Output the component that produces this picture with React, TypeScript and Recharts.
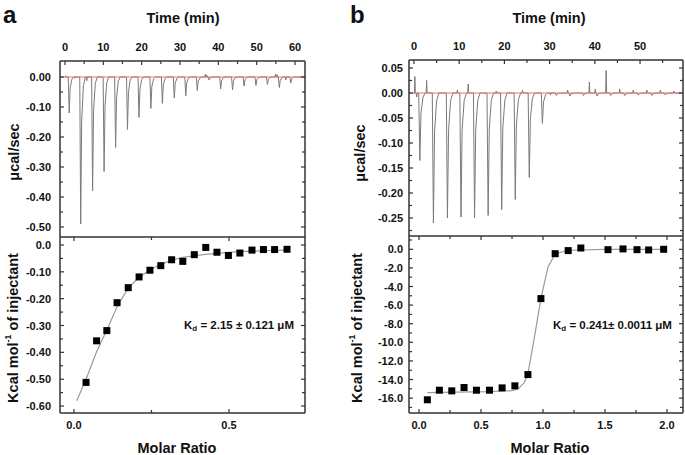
import { ComposedChart, Line, Scatter, XAxis, YAxis, ReferenceLine } from 'recharts';

const FONT = '"Liberation Sans", Arial, Helvetica, sans-serif';
const FRAME = '#333';

// ---- panel a: raw heat trace ----
const injTimeA = [0.9, 3.9, 7.0, 10.0, 13.0, 16.1, 19.1, 22.2, 25.2, 28.3, 31.3, 34.3, 37.4, 40.4, 43.5, 46.5, 49.6, 52.6, 55.7, 58.7];
const peakA = [-0.12, -0.49, -0.38, -0.315, -0.235, -0.175, -0.135, -0.105, -0.088, -0.07, -0.063, -0.045, -0.01, -0.04, -0.043, -0.03, -0.028, -0.025, -0.035, -0.02];
const bumpsA = [[0.2, 0.004], [2.6, -0.004], [5.7, -0.012], [8.8, 0.003], [36.6, 0.01], [37.0, 0.006], [54.9, 0.01], [55.3, 0.008], [57.6, -0.01]];
const traceEndA = [0, 62.5];

// ---- panel a: integrated heats ----
const ratioA = [0.039, 0.073, 0.106, 0.139, 0.175, 0.21, 0.245, 0.28, 0.315, 0.351, 0.388, 0.425, 0.461, 0.498, 0.535, 0.574, 0.611, 0.647, 0.687];
const heatA = [-0.512, -0.357, -0.319, -0.215, -0.159, -0.119, -0.094, -0.077, -0.055, -0.061, -0.036, -0.009, -0.027, -0.039, -0.03, -0.019, -0.017, -0.017, -0.016];
const fitRatioA = [0.009, 0.039, 0.073, 0.106, 0.139, 0.175, 0.21, 0.245, 0.28, 0.315, 0.351, 0.388, 0.425, 0.461, 0.535, 0.611, 0.687];
const fitHeatA = [-0.58, -0.5, -0.398, -0.317, -0.23, -0.161, -0.12, -0.093, -0.072, -0.056, -0.046, -0.04, -0.035, -0.031, -0.025, -0.021, -0.019];

// ---- panel b: raw heat trace ----
const injTimeB = [1.1, 4.1, 7.2, 10.2, 13.2, 16.2, 19.2, 22.2, 25.3, 28.2, 31.3, 34.3, 37.3, 40.3, 43.3, 46.4, 49.4, 52.4, 55.4];
const peakB = [-0.135, -0.26, -0.25, -0.248, -0.25, -0.245, -0.233, -0.213, -0.169, -0.061, -0.005, -0.006, -0.005, -0.006, -0.005, -0.005, -0.004, -0.005, -0.004];
const bumpsB = [[0.2, 0.033], [0.6, -0.008], [2.8, 0.025], [9.6, 0.006], [12.0, 0.018], [18.2, 0.004], [24.0, 0.006], [30.2, -0.004], [34.0, 0.006], [38.8, 0.022], [40.1, 0.008], [42.5, 0.045], [45.5, 0.008], [48.5, 0.006], [51.5, 0.006], [54.5, 0.006], [57.5, 0.004]];
const traceEndB = [0, 59.3];

// ---- panel b: integrated heats ----
const ratioB = [0.067, 0.164, 0.264, 0.363, 0.463, 0.568, 0.67, 0.773, 0.878, 0.983, 1.098, 1.203, 1.305, 1.524, 1.645, 1.758, 1.852, 1.973];
const heatB = [-16.18, -15.15, -15.22, -14.86, -15.15, -15.15, -14.9, -14.68, -13.47, -5.3, -0.47, -0.14, 0.14, -0.04, 0.04, -0.04, -0.07, 0];
const fitRatioB = [0.067, 0.3, 0.55, 0.75, 0.8, 0.85, 0.878, 0.93, 0.983, 1.04, 1.098, 1.2, 1.5, 1.973];
const fitHeatB = [-15.4, -15.35, -15.3, -15.2, -15.0, -14.3, -13.4, -9.5, -5.3, -1.9, -0.5, -0.1, 0, 0];

// ---- ticks ----
const timeMajorA = [0, 10, 20, 30, 40, 50, 60];
const timeMinorA = [5, 15, 25, 35, 45, 55];
const powMajorA = [0, -0.1, -0.2, -0.3, -0.4, -0.5];
const powLabelA = ['0.00', '-0.10', '-0.20', '-0.30', '-0.40', '-0.50'];
const powMinorA = [-0.05, -0.15, -0.25, -0.35, -0.45];
const ratioMajorA = [0, 0.5];
const ratioLabelA = ['0.0', '0.5'];
const ratioMinorA = [0.25];
const kcalMajorA = [0, -0.1, -0.2, -0.3, -0.4, -0.5, -0.6];
const kcalLabelA = ['0.0', '-0.10', '-0.20', '-0.30', '-0.40', '-0.50', '-0.60'];
const kcalMinorA = [-0.05, -0.15, -0.25, -0.35, -0.45, -0.55];

const timeMajorB = [0, 10, 20, 30, 40, 50];
const timeMinorB = [5, 15, 25, 35, 45, 55];
const powMajorB = [0.05, 0, -0.05, -0.1, -0.15, -0.2, -0.25];
const powLabelB = ['0.05', '0.00', '-0.05', '-0.10', '-0.15', '-0.20', '-0.25'];
const powMinorB = [0.025, -0.025, -0.075, -0.125, -0.175, -0.225, -0.275];
const ratioMajorB = [0, 0.5, 1, 1.5, 2];
const ratioLabelB = ['0.0', '0.5', '1.0', '1.5', '2.0'];
const ratioMinorB = [0.25, 0.75, 1.25, 1.75];
const kcalMajorB = [0, -2, -4, -6, -8, -10, -12, -14, -16];
const kcalLabelB = ['0.0', '-2.0', '-4.0', '-6.0', '-8.0', '-10.0', '-12.0', '-14.0', '-16.0'];
const kcalMinorB = [1, -1, -3, -5, -7, -9, -11, -13, -15, -17];

function buildTrace(times: number[], peaks: number[], bumps: number[][], ends: number[]) {
  const pts: { t: number; p: number }[] = [{ t: ends[0], p: 0 }, { t: ends[1], p: 0 }];
  times.forEach((t, i) => {
    const d = peaks[i];
    pts.push({ t: t - 0.05, p: 0 }, { t: t + 0.2, p: d }, { t: t + 0.45, p: d * 0.3 }, { t: t + 0.9, p: d * 0.06 }, { t: t + 1.4, p: 0 });
  });
  bumps.forEach(([t, v]) => pts.push({ t: t - 0.1, p: 0 }, { t, p: v }, { t: t + 0.1, p: 0 }));
  return pts.sort((a, b) => a.t - b.t);
}

const pairs = (xs: number[], ys: number[]) => xs.map((r, i) => ({ r, k: ys[i] }));
const merge = (a: number[], b: number[]) => [...a, ...b].sort((x, y) => x - y);

type Side = 'left' | 'right' | 'top' | 'bottom';

function axisTick(side: Side, majors: number[], labels: string[] | null, gap = 8) {
  return (props: any) => {
    const { x, y, payload } = props;
    const v = Number(payload.value);
    const i = majors.findIndex((m) => Math.abs(m - v) < 1e-6);
    const len = i >= 0 ? 4 : 3;
    let x2 = x;
    let y2 = y;
    if (side === 'left') x2 = x + len;
    if (side === 'right') x2 = x - len;
    if (side === 'top') y2 = y + len;
    if (side === 'bottom') y2 = y - len;
    const label = labels && i >= 0 ? labels[i] : null;
    let tx = x;
    let ty = y;
    let anchor: 'end' | 'middle' = 'middle';
    if (side === 'left') { tx = x - gap; anchor = 'end'; }
    if (side === 'top') ty = y - 14;
    if (side === 'bottom') ty = y + 12;
    return (
      <g>
        <line x1={x} y1={y} x2={x2} y2={y2} stroke={FRAME} strokeWidth={1.2} />
        {label && (
          <text x={tx} y={ty} textAnchor={anchor} dominantBaseline="central" fontFamily={FONT} fontWeight="bold" fontSize={11} fill="#111">
            {label}
          </text>
        )}
      </g>
    );
  };
}

const square = (p: any) => <rect x={p.cx - 3.5} y={p.cy - 3.5} width={7} height={7} fill="#000" />;
const axisLine = { stroke: FRAME, strokeWidth: 1.5 };

interface RawProps {
  width: number;
  margin: { top: number; right: number; left: number; bottom: number };
  yWidth: number;
  rWidth: number;
  xDomain: number[];
  yDomain: number[];
  tMajor: number[];
  tMinor: number[];
  yMajor: number[];
  yLabels: string[];
  yMinor: number[];
  data: { t: number; p: number }[];
  gap: number;
}

function RawChart(p: RawProps) {
  const xt = merge(p.tMajor, p.tMinor);
  const yt = merge(p.yMajor, p.yMinor);
  return (
    <ComposedChart width={p.width} height={240} margin={p.margin}>
      <XAxis xAxisId="t" type="number" dataKey="t" orientation="top" domain={p.xDomain} allowDataOverflow ticks={xt} interval={0} height={26}
        tickSize={0} tickMargin={0} tickLine={false} axisLine={axisLine} tick={axisTick('top', p.tMajor, p.tMajor.map(String))} />
      <YAxis yAxisId="l" type="number" dataKey="p" domain={p.yDomain} allowDataOverflow ticks={yt} interval={0} width={p.yWidth}
        tickSize={0} tickMargin={0} tickLine={false} axisLine={axisLine} tick={axisTick('left', p.yMajor, p.yLabels, p.gap)} />
      <YAxis yAxisId="r" orientation="right" type="number" domain={p.yDomain} allowDataOverflow ticks={yt} interval={0} width={p.rWidth}
        tickSize={0} tickMargin={0} tickLine={false} axisLine={axisLine} tick={axisTick('right', p.yMajor, null)} />
      <Line xAxisId="t" yAxisId="l" data={p.data} dataKey="p" type="linear" dot={false} stroke="#7a7a7a" strokeWidth={1} isAnimationActive={false} />
      <ReferenceLine xAxisId="t" yAxisId="l" y={0} stroke="#f07070" strokeWidth={1} />
    </ComposedChart>
  );
}

interface FitProps {
  width: number;
  height: number;
  margin: { top: number; right: number; left: number; bottom: number };
  yWidth: number;
  rWidth: number;
  xDomain: number[];
  yDomain: number[];
  xMajor: number[];
  xLabels: string[];
  xMinor: number[];
  yMajor: number[];
  yLabels: string[];
  yMinor: number[];
  points: { r: number; k: number }[];
  fit: { r: number; k: number }[];
  gap: number;
}

function FitChart(p: FitProps) {
  const xt = merge(p.xMajor, p.xMinor);
  const yt = merge(p.yMajor, p.yMinor);
  return (
    <ComposedChart width={p.width} height={p.height} margin={p.margin}>
      <XAxis xAxisId="b" type="number" dataKey="r" domain={p.xDomain} allowDataOverflow ticks={xt} interval={0} height={30}
        tickSize={0} tickMargin={0} tickLine={false} axisLine={axisLine} tick={axisTick('bottom', p.xMajor, p.xLabels)} />
      <XAxis xAxisId="t" orientation="top" type="number" dataKey="r" domain={p.xDomain} allowDataOverflow ticks={xt} interval={0} height={1}
        tickSize={0} tickMargin={0} tickLine={false} axisLine={axisLine} tick={axisTick('top', p.xMajor, null)} />
      <YAxis yAxisId="l" type="number" dataKey="k" domain={p.yDomain} allowDataOverflow ticks={yt} interval={0} width={p.yWidth}
        tickSize={0} tickMargin={0} tickLine={false} axisLine={axisLine} tick={axisTick('left', p.yMajor, p.yLabels, p.gap)} />
      <YAxis yAxisId="r" orientation="right" type="number" domain={p.yDomain} allowDataOverflow ticks={yt} interval={0} width={p.rWidth}
        tickSize={0} tickMargin={0} tickLine={false} axisLine={axisLine} tick={axisTick('right', p.yMajor, null)} />
      <Line xAxisId="b" yAxisId="l" data={p.fit} dataKey="k" type="linear" dot={false} stroke="#9a9a9a" strokeWidth={1.2} isAnimationActive={false} />
      <Scatter xAxisId="b" yAxisId="l" data={p.points} dataKey="k" shape={square} isAnimationActive={false} />
    </ComposedChart>
  );
}

const titleStyle = { fontFamily: FONT, fontWeight: 'bold' as const, fill: '#111' };

export default function App() {
  const traceA = buildTrace(injTimeA, peakA, bumpsA, traceEndA);
  const traceB = buildTrace(injTimeB, peakB, bumpsB, traceEndB);
  return (
    <div style={{ position: 'absolute', left: 0, top: 0, width: 685, height: 455, background: '#fff', overflow: 'hidden' }}>
      <div style={{ position: 'absolute', left: 0, top: 0 }}>
        <RawChart width={340} margin={{ top: 35, right: 30, left: 5, bottom: 3 }} yWidth={55} rWidth={5}
          xDomain={[-1.3, 62.6]} yDomain={[-0.5333, 0.0533]} tMajor={timeMajorA} tMinor={timeMinorA}
          yMajor={powMajorA} yLabels={powLabelA} yMinor={powMinorA} data={traceA} gap={9} />
      </div>
      <div style={{ position: 'absolute', left: 0, top: 230 }}>
        <FitChart width={340} height={225} margin={{ top: 6, right: 30, left: 5, bottom: 12 }} yWidth={55} rWidth={5}
          xDomain={[-0.045, 0.745]} yDomain={[-0.626, 0.0298]} xMajor={ratioMajorA} xLabels={ratioLabelA} xMinor={ratioMinorA}
          yMajor={kcalMajorA} yLabels={kcalLabelA} yMinor={kcalMinorA} points={pairs(ratioA, heatA)} fit={pairs(fitRatioA, fitHeatA)} gap={9} />
      </div>
      <div style={{ position: 'absolute', left: 340, top: 0 }}>
        <RawChart width={345} margin={{ top: 34, right: 0, left: 9, bottom: 4 }} yWidth={60} rWidth={2}
          xDomain={[-1.1, 59.5]} yDomain={[-0.286, 0.066]} tMajor={timeMajorB} tMinor={timeMinorB}
          yMajor={powMajorB} yLabels={powLabelB} yMinor={powMinorB} data={traceB} gap={6} />
      </div>
      <div style={{ position: 'absolute', left: 340, top: 229 }}>
        <FitChart width={345} height={226} margin={{ top: 6, right: 0, left: 9, bottom: 12 }} yWidth={60} rWidth={2}
          xDomain={[-0.081, 2.129]} yDomain={[-17.6, 1.43]} xMajor={ratioMajorB} xLabels={ratioLabelB} xMinor={ratioMinorB}
          yMajor={kcalMajorB} yLabels={kcalLabelB} yMinor={kcalMinorB} points={pairs(ratioB, heatB)} fit={pairs(fitRatioB, fitHeatB)} gap={6} />
      </div>
      <svg width={685} height={455} style={{ position: 'absolute', left: 0, top: 0, pointerEvents: 'none' }}>
        <text x={3} y={22.5} fontSize={24} {...titleStyle}>a</text>
        <text x={350} y={22.5} fontSize={24} {...titleStyle}>b</text>

        <text x={183} y={18} fontSize={14.5} textAnchor="middle" dominantBaseline="central" {...titleStyle}>Time (min)</text>
        <text x={549} y={18} fontSize={14.5} textAnchor="middle" dominantBaseline="central" {...titleStyle}>Time (min)</text>

        <text transform="translate(14,152) rotate(-90)" fontSize={14.5} textAnchor="middle" dominantBaseline="central" {...titleStyle}>μcal/sec</text>
        <text transform="translate(360,153) rotate(-90)" fontSize={14.5} textAnchor="middle" dominantBaseline="central" {...titleStyle}>μcal/sec</text>

        <text transform="translate(13,328) rotate(-90)" fontSize={14.5} textAnchor="middle" dominantBaseline="central" {...titleStyle}>
          Kcal mol<tspan dy={-5} fontSize={9}>-1</tspan><tspan dy={5}> of injectant</tspan>
        </text>
        <text transform="translate(357,328) rotate(-90)" fontSize={14.5} textAnchor="middle" dominantBaseline="central" {...titleStyle}>
          Kcal mol<tspan dy={-5} fontSize={9}>-1</tspan><tspan dy={5}> of injectant</tspan>
        </text>

        <text x={177} y={448} fontSize={14.5} textAnchor="middle" dominantBaseline="central" {...titleStyle}>Molar Ratio</text>
        <text x={550} y={448} fontSize={14.5} textAnchor="middle" dominantBaseline="central" {...titleStyle}>Molar Ratio</text>

        <text x={184} y={325} fontSize={11.5} dominantBaseline="central" {...titleStyle}>
          K<tspan dy={3} fontSize={8}>d</tspan><tspan dy={-3}> = 2.15 ± 0.121 μM</tspan>
        </text>
        <text x={553} y={325} fontSize={11.5} dominantBaseline="central" {...titleStyle}>
          K<tspan dy={3} fontSize={8}>d</tspan><tspan dy={-3}> = 0.241± 0.0011 μM</tspan>
        </text>
      </svg>
    </div>
  );
}
